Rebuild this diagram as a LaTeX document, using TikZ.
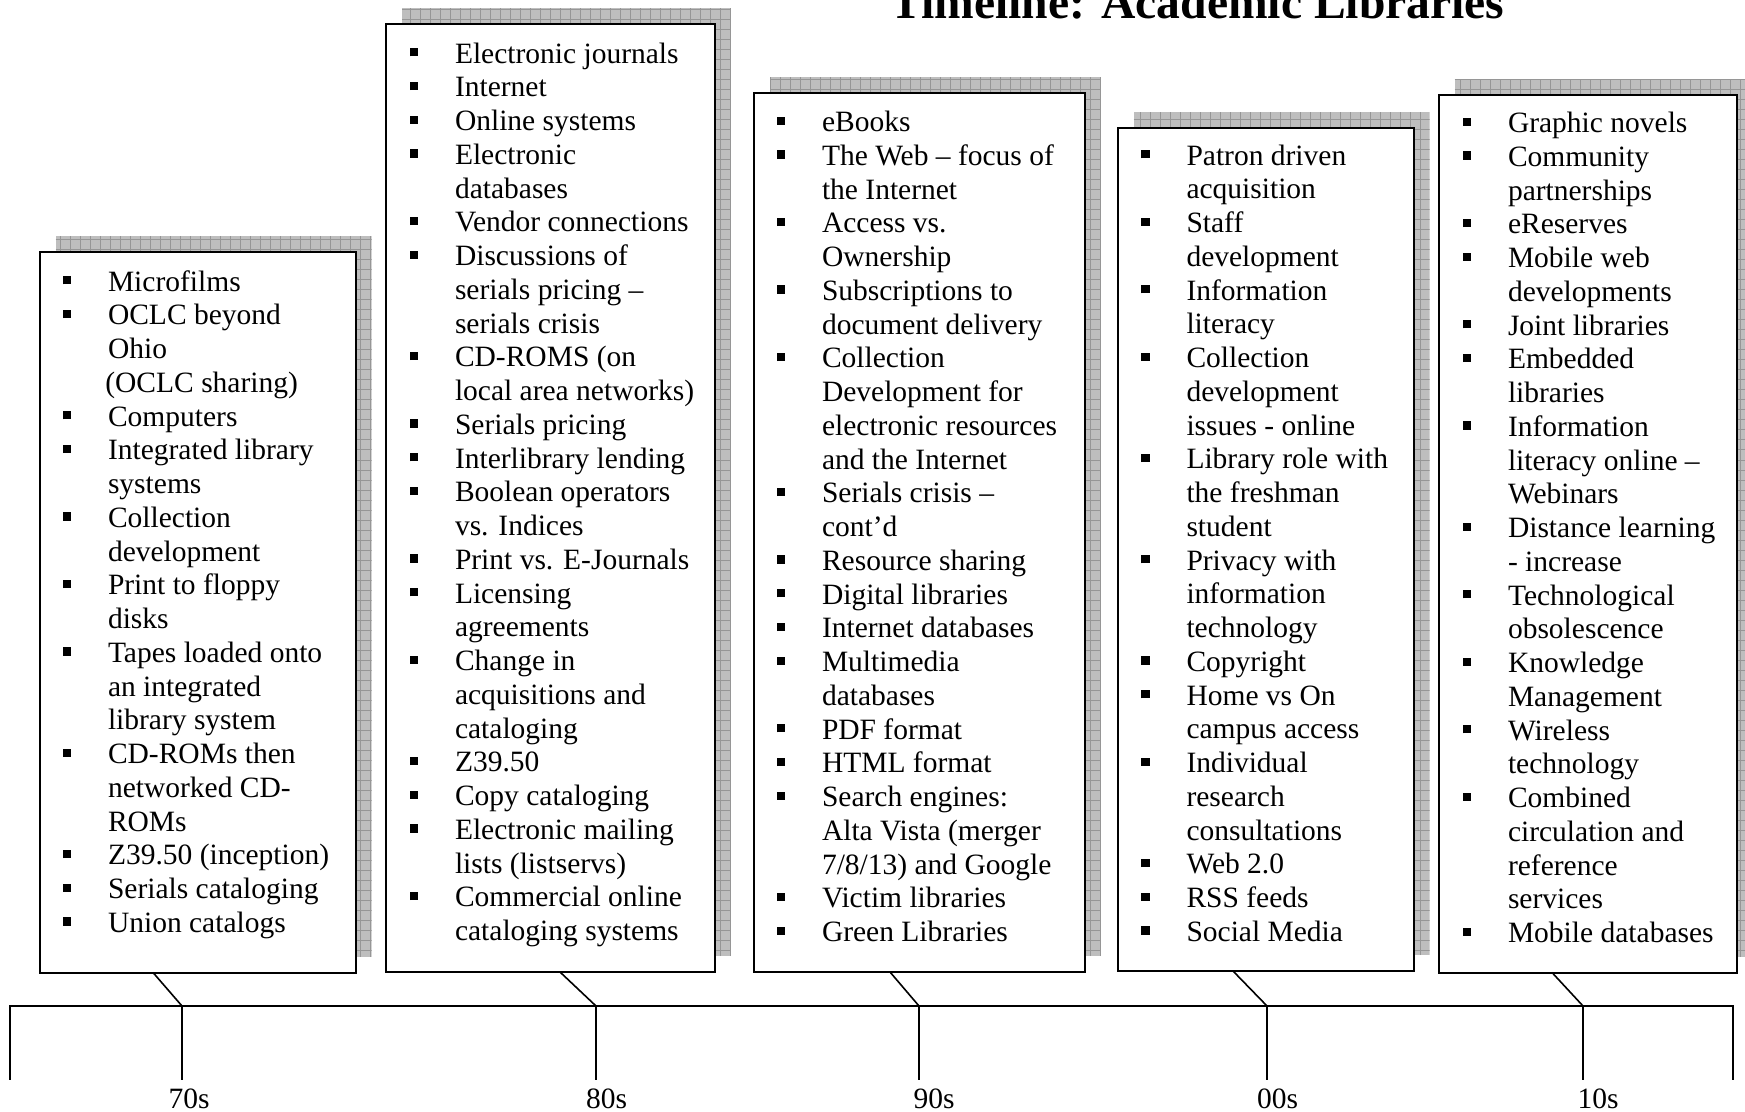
\documentclass[tikz,border=0pt]{standalone}
\usepackage{fontspec}
\setmainfont{Liberation Serif}
\usetikzlibrary{fit}
\definecolor{shadowfill}{RGB}{190,190,190}
\definecolor{shadowline}{RGB}{150,150,150}
\tikzset{
  box/.style={draw=black, line width=1pt, fill=white, inner sep=0pt, outer sep=0pt},
  items/.style={anchor=north west, inner sep=0pt, outer sep=0pt, align=left,
    font=\fontsize{14.75pt}{16.875pt}\selectfont},
  axisline/.style={line width=1pt, line cap=rect},
  conn/.style={line width=0.8pt},
  lbl/.style={anchor=base, inner sep=0pt, font=\fontsize{14.75pt}{16.875pt}\selectfont},
  ttl/.style={anchor=base, inner sep=0pt, font=\bfseries\fontsize{23.8pt}{28pt}\selectfont},
}
\newcommand\bu{\leavevmode\llap{\rule[3.3pt]{4.2pt}{4.2pt}\hspace{18.5pt}}}
\newcommand\shadowrect[4]{%
  \begin{scope}
    \clip (#1+16,#2-16) rectangle (#3+16,#4-16);
    \fill[shadowfill] (#1+16,#2-16) rectangle (#3+16,#4-16);
    \draw[shadowline, line width=0.5pt, step=5pt] (#1+16,#2-16) grid (#3+16,#4-16);
  \end{scope}}
\begin{document}
\begin{tikzpicture}[x=0.5pt, y=-0.5pt]
\useasboundingbox (0,0) rectangle (1745,1112);
\fill[white] (0,0) rectangle (1745,1112);

% title
\node[ttl] (title) at (1197.5,19) {Timeline: Academic Libraries};

% shadows
\shadowrect{39.5}{252}{355.5}{972.5}
\shadowrect{386}{24}{715}{972}
\shadowrect{754}{93.5}{1085}{972}
\shadowrect{1117.5}{128.5}{1413.5}{971}
\shadowrect{1438.5}{95}{1736.5}{972.5}

% boxes
\node[box, fit={(39.5,252)(355.5,972.5)}] (b1) {};
\node[box, fit={(386,24)(715,972)}] (b2) {};
\node[box, fit={(754,93.5)(1085,972)}] (b3) {};
\node[box, fit={(1117.5,128.5)(1413.5,971)}] (b4) {};
\node[box, fit={(1438.5,95)(1736.5,972.5)}] (b5) {};

% texts
\node[items] (t1) at (108,291-23.62) {\strut\bu Microfilms\\
\bu OCLC beyond\\
Ohio\\
\hspace*{-5pt}\ (OCLC sharing)\\
\bu Computers\\
\bu Integrated library\\
systems\\
\bu Collection\\
development\\
\bu Print to floppy\\
disks\\
\bu Tapes loaded onto\\
an integrated\\
library system\\
\bu CD-ROMs then\\
networked CD-\\
ROMs\\
\bu Z39.50 (inception)\\
\bu Serials cataloging\\
\bu Union catalogs};

\node[items] (t2) at (455,63-23.62) {\strut\bu Electronic journals\\
\bu Internet\\
\bu Online systems\\
\bu Electronic\\
databases\\
\bu Vendor connections\\
\bu Discussions of\\
serials pricing –\\
serials crisis\\
\bu CD-ROMS (on\\
local area networks)\\
\bu Serials pricing\\
\bu Interlibrary lending\\
\bu Boolean operators\\
vs. Indices\\
\bu Print vs. E-Journals\\
\bu Licensing\\
agreements\\
\bu Change in\\
acquisitions and\\
cataloging\\
\bu Z39.50\\
\bu Copy cataloging\\
\bu Electronic mailing\\
lists (listservs)\\
\bu Commercial online\\
cataloging systems};

\node[items] (t3) at (822,131.5-23.62) {\strut\bu eBooks\\
\bu The Web – focus of\\
the Internet\\
\bu Access vs.\\
Ownership\\
\bu Subscriptions to\\
document delivery\\
\bu Collection\\
Development for\\
electronic resources\\
and the Internet\\
\bu Serials crisis –\\
cont’d\\
\bu Resource sharing\\
\bu Digital libraries\\
\bu Internet databases\\
\bu Multimedia\\
databases\\
\bu PDF format\\
\bu HTML format\\
\bu Search engines:\\
Alta Vista (merger\\
7/8/13) and Google\\
\bu Victim libraries\\
\bu Green Libraries};

\node[items] (t4) at (1186.5,165-23.62) {\strut\bu Patron driven\\
acquisition\\
\bu Staff\\
development\\
\bu Information\\
literacy\\
\bu Collection\\
development\\
issues - online\\
\bu Library role with\\
the freshman\\
student\\
\bu Privacy with\\
information\\
technology\\
\bu Copyright\\
\bu Home vs On\\
campus access\\
\bu Individual\\
research\\
consultations\\
\bu Web 2.0\\
\bu RSS feeds\\
\bu Social Media};

\node[items] (t5) at (1508,132.5-23.62) {\strut\bu Graphic novels\\
\bu Community\\
partnerships\\
\bu eReserves\\
\bu Mobile web\\
developments\\
\bu Joint libraries\\
\bu Embedded\\
libraries\\
\bu Information\\
literacy online –\\
Webinars\\
\bu Distance learning\\
- increase\\
\bu Technological\\
obsolescence\\
\bu Knowledge\\
Management\\
\bu Wireless\\
technology\\
\bu Combined\\
circulation and\\
reference\\
services\\
\bu Mobile databases};

% axis
\coordinate (aL) at (10,1006);
\coordinate (aR) at (1733,1006);
\coordinate (aLb) at (10,1079);
\coordinate (aRb) at (1733,1079);
\draw[axisline] (aLb) -- (aL) -- (aR) -- (aRb);

\coordinate (k1) at (182,1006);   \coordinate (k1b) at (182,1079);
\coordinate (k2) at (596,1006);   \coordinate (k2b) at (596,1079);
\coordinate (k3) at (919,1006);   \coordinate (k3b) at (919,1079);
\coordinate (k4) at (1267,1006);  \coordinate (k4b) at (1267,1079);
\coordinate (k5) at (1583,1006);  \coordinate (k5b) at (1583,1079);
\foreach \i in {1,...,5} {\draw[axisline] (k\i) -- (k\i b);}

% connectors
\coordinate (s1) at (153,972.5);
\coordinate (s2) at (560,972);
\coordinate (s3) at (890,972);
\coordinate (s4) at (1233,971);
\coordinate (s5) at (1552,972.5);
\foreach \i in {1,...,5} {\draw[conn] (s\i) -- (k\i);}

% labels
\node[lbl] (l1) at (189,1108) {70s};
\node[lbl] (l2) at (606.5,1108) {80s};
\node[lbl] (l3) at (934,1108) {90s};
\node[lbl] (l4) at (1277.5,1108) {00s};
\node[lbl] (l5) at (1598,1108) {10s};
\end{tikzpicture}
\end{document}
